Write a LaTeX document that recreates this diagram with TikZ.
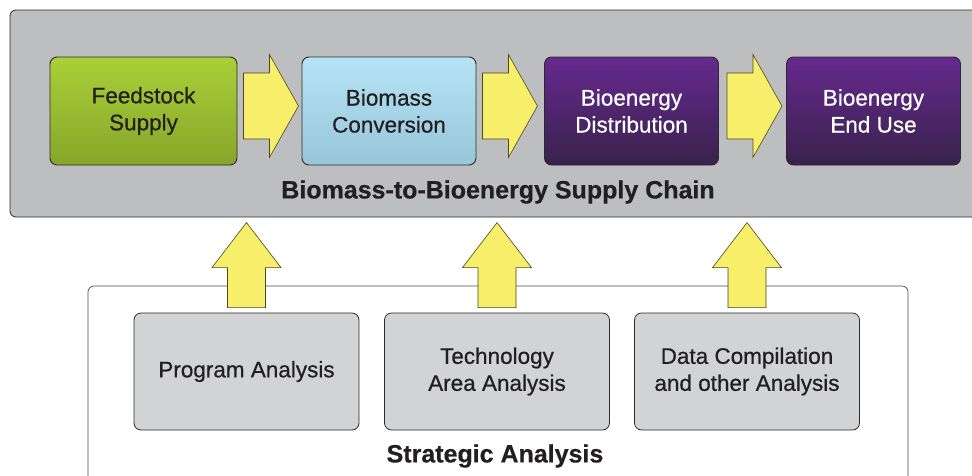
\documentclass[tikz,border=0pt]{standalone}
\usepackage{fontspec}
\setmainfont{Liberation Sans}
\newfontfamily\boxfont[FakeBold=0.6]{Liberation Sans}
\newfontfamily\headfont[FakeBold=0.5]{Liberation Sans Bold}
\usetikzlibrary{calc}
\definecolor{panelgray}{HTML}{BDBEC0}
\definecolor{boxgray}{HTML}{D1D3D4}
\definecolor{inkdark}{HTML}{231F20}
\definecolor{edgedark}{HTML}{2E2A2B}
\definecolor{arrowfill}{HTML}{F7EE6A}
\definecolor{arrowedge}{HTML}{4A4620}
\definecolor{greenA}{HTML}{A9CF38}
\definecolor{greenB}{HTML}{87A62A}
\definecolor{blueA}{HTML}{B5E4F7}
\definecolor{blueB}{HTML}{98C6D9}
\definecolor{purpA}{HTML}{66298F}
\definecolor{purpB}{HTML}{38224C}
\begin{document}
\begin{tikzpicture}[x=1pt,y=-1pt,
  stage/.style={rectangle, rounded corners=7pt, draw=edgedark, line width=0.9pt,
    minimum width=174pt, minimum height=108pt, inner sep=0pt, align=center,
    text=inkdark, font=\boxfont\fontsize{22.5}{27}\selectfont},
  analysis/.style={rectangle, rounded corners=7pt, draw=edgedark, line width=0.8pt,
    fill=boxgray, minimum width=225pt, minimum height=117pt, inner sep=0pt,
    align=center, text=inkdark, font=\boxfont\fontsize{22.5}{27}\selectfont},
  bigarrow/.style={fill=arrowfill, draw=arrowedge, line width=0.6pt, line join=miter},
  heading/.style={text=inkdark, font=\headfont\fontsize{25}{28}\selectfont, inner sep=0pt}
]
\useasboundingbox (0,0) rectangle (972,475);
\clip (0,0) rectangle (972,475);

% panels
\draw[fill=panelgray, draw=edgedark, line width=0.8pt, rounded corners=6pt]
  (10,10) rectangle (1000,217);
\draw[fill=white, draw=edgedark!85, line width=0.7pt, rounded corners=6pt]
  (88,286) rectangle (908,520);

% supply chain stages
\node[stage, minimum width=187pt, shading angle=45, top color=greenA, middle color=greenA, bottom color=greenB]
  (fs) at (143.5,111) {Feedstock\\Supply};
\node[stage, shading angle=45, top color=blueA, middle color=blueA!70!blueB, bottom color=blueB]
  (bc) at (389,111) {Biomass\\Conversion};
\node[stage, shading angle=45, top color=purpA, middle color=purpA!80!purpB, bottom color=purpB, text=white]
  (dist) at (631.5,111) {Bioenergy\\Distribution};
\node[stage, shading angle=45, top color=purpA, middle color=purpA!80!purpB, bottom color=purpB, text=white]
  (eu) at (873.5,111) {Bioenergy\\End Use};

\node[heading] (chain) at (498,192) {Biomass-to-Bioenergy Supply Chain};

% analyses
\node[analysis] (prog) at (246.5,371.5) {Program Analysis};
\node[analysis] (tech) at (497,371.5) {Technology\\Area Analysis};
\node[analysis] (data) at (747,371.5) {Data Compilation\\and other Analysis};

\node[heading] (strat) at (495,456) {Strategic Analysis};

% horizontal block arrows
\foreach \a/\b/\g in {fs/bc/6, bc/dist/6, dist/eu/8}{
  \draw[bigarrow] ($(\a.east)+(\g,-5)$) ++(0,-33) -- ++(26,0) -- ++(0,-18.5)
    -- ++(29,51.5) -- ++(-29,51.5) -- ++(0,-18.5) -- ++(-26,0) -- cycle;
}

% vertical block arrows
\foreach \a in {prog, tech, data}{
  \draw[bigarrow] ($(\a.north)+(0,-5)$) ++(-19,0) -- ++(0,-40) -- ++(-15.5,0)
    -- ++(34.5,-45) -- ++(34.5,45) -- ++(-15.5,0) -- ++(0,40) -- cycle;
}
\end{tikzpicture}
\end{document}
